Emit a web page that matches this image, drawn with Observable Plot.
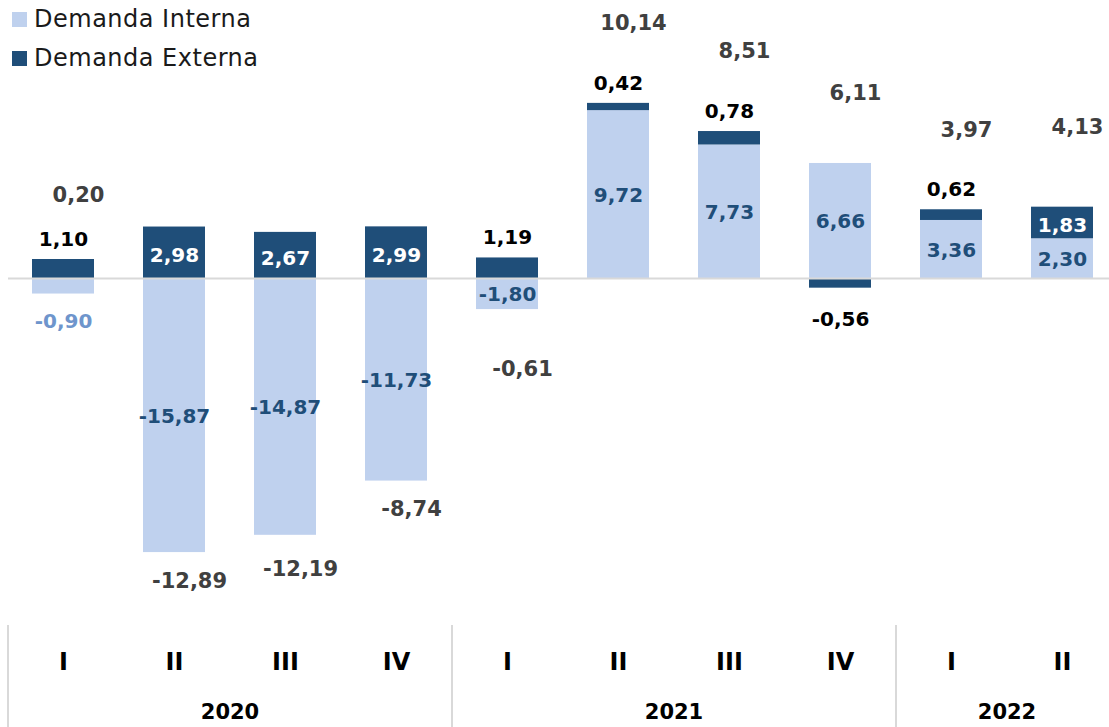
<!DOCTYPE html>
<html>
<head>
<meta charset="utf-8">
<script src="https://cdn.jsdelivr.net/npm/d3@7"></script>
<script src="https://cdn.jsdelivr.net/npm/@observablehq/plot@0.6"></script>
<style>
  body { margin: 0; background: #fff; }
  #wrap { position: relative; width: 1109px; height: 727px; font-family: "DejaVu Sans", sans-serif; }
  #legend { position: absolute; left: 12px; top: 4px; font-size: 24px; letter-spacing: 0.5px; color: #1a1a1a; }
  .row { display: flex; align-items: center; height: 30px; margin-bottom: 9px; }
  .sw { width: 15px; height: 15px; margin-right: 7px; }
</style>
</head>
<body>
<div id="wrap">
  <div id="chart"></div>
  <div id="legend"></div>
</div>
<script>
const quarters = ["I","II","III","IV","I","II","III","IV","I","II"];
const years    = ["2020","2020","2020","2020","2021","2021","2021","2021","2022","2022"];
const interna  = [-0.90,-15.87,-14.87,-11.73,-1.80,9.72,7.73,6.66,3.36,2.30];
const externa  = [1.10,2.98,2.67,2.99,1.19,0.42,0.78,-0.56,0.62,1.83];
const totals   = [0.20,-12.89,-12.19,-8.74,-0.61,10.14,8.51,6.11,3.97,4.13];
const seriesNames = ["Demanda Interna","Demanda Externa"];
const colors = ["#BFD1EE","#1F4E79"];

const keys = quarters.map((q,i) => years[i] + "-" + q);
const fmt = v => v.toFixed(2).replace(".", ",");

// stacked segments (positive and negative stacks kept apart)
const segs = [];
keys.forEach((k,i) => {
  const vi = interna[i], ve = externa[i];
  segs.push({key:k, series:seriesNames[0], value:vi, y1:0, y2:vi});
  const same = Math.sign(vi) === Math.sign(ve);
  const b = same ? vi : 0;
  segs.push({key:k, series:seriesNames[1], value:ve, y1:b, y2:b+ve});
});
const intSegs = segs.filter(d => d.series === seriesNames[0]);
const extSegs = segs.filter(d => d.series === seriesNames[1]);
const totalRows = keys.map((k,i) => ({key:k, value:totals[i]}));
const qRows = keys.map((k,i) => ({key:k, q:quarters[i], year:years[i]}));
const yearList = Array.from(new Set(years));
// year label sits between the two middle quarters of each year
const yearMid = yearList.map(y => { const ks = keys.filter((k,i)=>years[i]===y); return {year:y, key:ks[ks.length/2 - 1]}; });
const yearStart = yearList.map(y => ({year:y, key:keys[years.indexOf(y)]}));

const W = 1109, H = 727;
const xr = [7.5, 1117.5];
const step = (xr[1]-xr[0]) / keys.length;
const zeroY = 278, k = 17.27;

const chart = Plot.plot({
  width: W, height: H,
  marginLeft: 0, marginRight: 0, marginTop: 0, marginBottom: 0,
  style: {fontFamily: "DejaVu Sans, sans-serif", background: "#fff"},
  x: {domain: keys, range: xr, paddingInner: 0.44, paddingOuter: 0.22, axis: null},
  y: {domain: [-16, 16], range: [zeroY + 16*k, zeroY - 16*k], axis: null},
  color: {domain: seriesNames, range: colors},
  marks: [
    Plot.barY(segs, {x: "key", y1: "y1", y2: "y2", fill: "series"}),
    Plot.ruleY([0], {stroke: "#d9d9d9", strokeWidth: 2, insetLeft: 8}),
    // interna labels inside bars
    Plot.text(intSegs.filter(d => Math.abs(d.value) >= 1), {x: "key", y: d => (d.y1+d.y2)/2, dy: 1, text: d => fmt(d.value), fill: "#1F4E79", fontSize: 20, fontWeight: "bold"}),
    // interna labels outside (small bars)
    Plot.text(intSegs.filter(d => Math.abs(d.value) < 1), {x: "key", y: "y2", dy: 28, text: d => fmt(d.value), fill: "#6E95CC", fontSize: 20, fontWeight: "bold"}),
    // externa labels inside
    Plot.text(extSegs.filter(d => Math.abs(d.value) >= 1.5), {x: "key", y: d => (d.y1+d.y2)/2, dy: 3, text: d => fmt(d.value), fill: "#fff", fontSize: 20, fontWeight: "bold"}),
    // externa labels outside
    Plot.text(extSegs.filter(d => Math.abs(d.value) < 1.5 && d.value >= 0), {x: "key", y: "y2", dy: -20, text: d => fmt(d.value), fill: "#000", fontSize: 20, fontWeight: "bold"}),
    Plot.text(extSegs.filter(d => Math.abs(d.value) < 1.5 && d.value < 0), {x: "key", y: "y2", dy: 31, text: d => fmt(d.value), fill: "#000", fontSize: 20, fontWeight: "bold"}),
    // totals
    Plot.text(totalRows.filter(d => d.value >= 0), {x: "key", y: "value", dy: -80, dx: 15, text: d => fmt(d.value), fill: "#404040", fontSize: 21, fontWeight: "bold"}),
    Plot.text(totalRows.filter(d => d.value < 0), {x: "key", y: "value", dy: 80, dx: 15, text: d => fmt(d.value), fill: "#404040", fontSize: 21, fontWeight: "bold"}),
    // category axis
    Plot.ruleX(yearStart, {x: "key", dx: -step/2, stroke: "#d9d9d9", strokeWidth: 2, insetTop: 625}),
    Plot.text(qRows, {x: "key", text: "q", frameAnchor: "bottom", lineAnchor: "middle", dy: -65, fill: "#000", fontSize: 24, fontWeight: "bold"}),
    Plot.text(yearMid, {x: "key", text: "year", frameAnchor: "bottom", lineAnchor: "middle", dy: -15, dx: step/2, fill: "#000", fontSize: 21, fontWeight: "bold"})
  ]
});
document.getElementById("chart").appendChild(chart);

// legend
const lg = document.getElementById("legend");
seriesNames.forEach((s,i) => {
  const r = document.createElement("div"); r.className = "row";
  const sw = document.createElement("div"); sw.className = "sw"; sw.style.background = colors[i];
  const t = document.createElement("span"); t.textContent = s;
  r.appendChild(sw); r.appendChild(t); lg.appendChild(r);
});
</script>
</body>
</html>
